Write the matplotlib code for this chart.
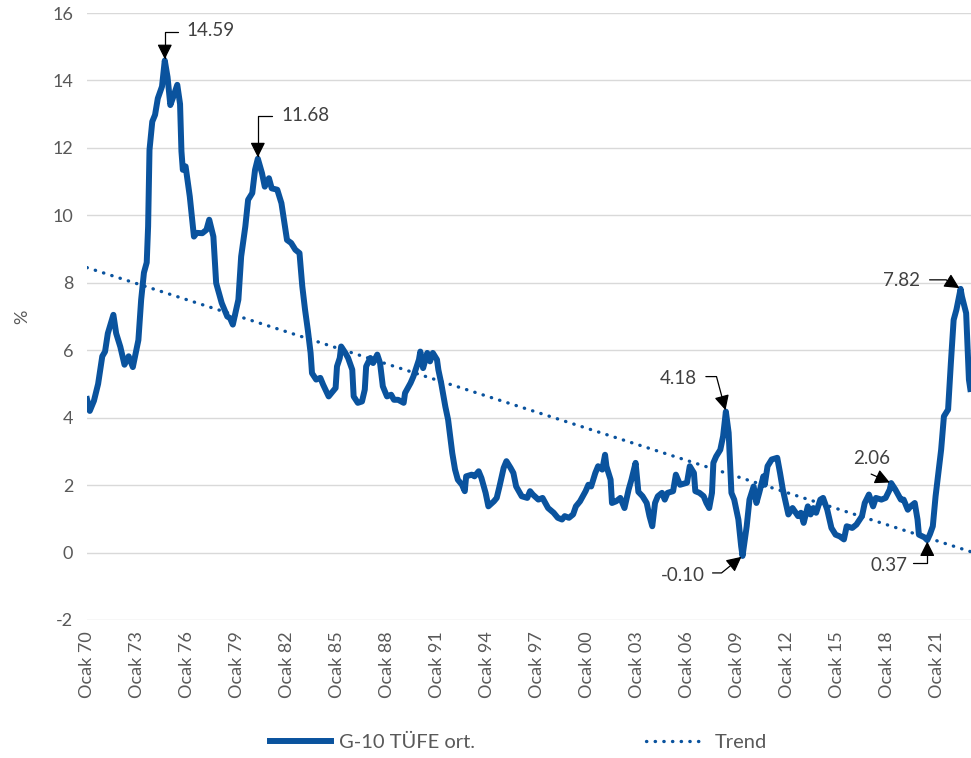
import numpy as np
import matplotlib
matplotlib.use("Agg")
import matplotlib.pyplot as plt

# G-10 average CPI (%); x = months since Jan 1970
MONTHS = [
    0, 2, 5, 8, 11, 13, 15, 19, 21, 24,
    27, 30, 33, 37, 39, 41, 43, 44, 45, 47,
    49, 51, 54, 56, 58, 60, 62, 65, 67, 68,
    69, 71, 74, 77, 79, 83, 86, 88, 91, 93,
    97, 101, 103, 105, 109, 111, 114, 116, 119, 121,
    123, 126, 128, 131, 133, 137, 140, 144, 147, 150,
    153, 155, 157, 159, 161, 162, 165, 168, 170, 174,
    176, 179, 180, 182, 183, 186, 188, 191, 192, 195,
    198, 200, 201, 204, 206, 209, 211, 213, 216, 219,
    221, 224, 228, 229, 233, 235, 239, 240, 242, 245,
    247, 249, 252, 253, 255, 258, 260, 263, 265, 267,
    270, 272, 273, 277, 279, 282, 284, 287, 289, 293,
    295, 297, 300, 302, 305, 307, 309, 313, 317, 319,
    321, 325, 328, 332, 336, 339, 342, 344, 347, 350,
    352, 355, 359, 361, 363, 366, 368, 371, 373, 374,
    377, 378, 381, 384, 387, 390, 392, 395, 397, 400,
    403, 405, 407, 409, 411, 414, 416, 418, 422, 424,
    427, 432, 434, 437, 438, 441, 444, 446, 448, 450,
    451, 453, 456, 458, 460, 462, 464, 466, 469, 471,
    472, 475, 477, 480, 482, 484, 487, 488, 490, 493,
    497, 499, 501, 505, 508, 512, 514, 516, 519, 521,
    523, 525, 528, 530, 533, 536, 539, 542, 545, 547,
    551, 554, 558, 560, 563, 566, 568, 572, 575, 578,
    579, 582, 586, 588, 591, 593, 596, 598, 599, 603,
    605, 607, 609, 611, 613, 615, 617, 620, 622, 624,
    626, 629, 630, 633, 635, 636,
]
CPI = [
    4.55, 4.2, 4.5, 5.0, 5.82, 5.96, 6.5, 7.05, 6.5, 6.1,
    5.57, 5.82, 5.5, 6.3, 7.5, 8.3, 8.6, 9.67, 11.94, 12.78,
    12.98, 13.47, 13.82, 14.59, 14.1, 13.27, 13.5, 13.87, 13.3, 11.9,
    11.35, 11.45, 10.56, 9.37, 9.48, 9.47, 9.57, 9.87, 9.37, 7.99,
    7.4, 7.0, 6.95, 6.76, 7.5, 8.78, 9.67, 10.46, 10.66, 11.35,
    11.68, 11.25, 10.85, 11.1, 10.8, 10.76, 10.36, 9.27, 9.18, 8.98,
    8.88, 7.9, 7.2, 6.6, 5.92, 5.32, 5.13, 5.18, 4.98, 4.63,
    4.73, 4.88, 5.52, 5.77, 6.11, 5.92, 5.77, 5.42, 4.63, 4.44,
    4.48, 4.83, 5.52, 5.77, 5.62, 5.87, 5.62, 4.93, 4.63, 4.68,
    4.53, 4.53, 4.44, 4.73, 5.03, 5.22, 5.72, 5.96, 5.47, 5.92,
    5.67, 5.92, 5.72, 5.42, 5.03, 4.33, 3.94, 2.95, 2.46, 2.16,
    2.01, 1.82, 2.26, 2.31, 2.26, 2.41, 2.21, 1.77, 1.37, 1.52,
    1.62, 1.96, 2.51, 2.71, 2.51, 2.36, 1.96, 1.67, 1.62, 1.82,
    1.72, 1.57, 1.62, 1.32, 1.18, 1.03, 0.98, 1.08, 1.03, 1.13,
    1.37, 1.52, 1.82, 2.01, 1.96, 2.36, 2.56, 2.46, 2.9, 2.56,
    2.16, 1.47, 1.52, 1.62, 1.32, 1.87, 2.16, 2.66, 1.8, 1.67,
    1.47, 1.08, 0.78, 1.47, 1.67, 1.77, 1.57, 1.77, 1.82, 2.31,
    2.01, 2.07, 2.56, 2.36, 1.82, 1.77, 1.67, 1.47, 1.32, 1.77,
    2.66, 2.85, 3.05, 3.45, 4.18, 3.55, 1.77, 1.57, 0.98, 0.19,
    -0.10, 0.78, 1.57, 1.96, 1.47, 1.77, 2.26, 2.01, 2.56, 2.76,
    2.81, 2.36, 1.87, 1.13, 1.32, 1.08, 1.18, 0.88, 1.37, 1.13,
    1.32, 1.18, 1.57, 1.62, 1.27, 0.73, 0.53, 0.48, 0.39, 0.78,
    0.73, 0.83, 1.08, 1.47, 1.72, 1.37, 1.62, 1.57, 1.62, 1.87,
    2.06, 1.87, 1.57, 1.57, 1.27, 1.37, 1.47, 0.98, 0.53, 0.45,
    0.37, 0.55, 0.78, 1.67, 2.36, 3.05, 4.04, 4.24, 5.62, 6.9,
    7.2, 7.82, 7.59, 7.1, 5.13, 4.85,
]

# linear trend, start and end value as shown on the chart
TREND_MONTHS = [0, 636]
TREND_VALUES = [8.45, 0.03]

TICK_MONTHS = list(range(0, 613, 36))
TICK_LABELS = ["Ocak 70", "Ocak 73", "Ocak 76", "Ocak 79", "Ocak 82", "Ocak 85",
               "Ocak 88", "Ocak 91", "Ocak 94", "Ocak 97", "Ocak 00", "Ocak 03",
               "Ocak 06", "Ocak 09", "Ocak 12", "Ocak 15", "Ocak 18", "Ocak 21"]

# callouts: month of the point, text offset, arrow start offset (pixels), connector
CALLOUT_MONTHS = [56, 123, 460, 472, 579, 605, 629]
CALLOUT_TEXT_OFFSETS = [(22, 30), (24, 43), (-29, 33), (-38, -20), (-20, 25), (-20, -25), (-41, 8)]
CALLOUT_ARROW_OFFSETS = [(13, 29), (14, 43), (-20, 35), (-30, -17), (-20, 9), (-14, -23), (-31, 9)]
CALLOUT_HA = ["left", "left", "right", "right", "center", "right", "right"]
CALLOUT_CONN = ["angle,angleA=0,angleB=90,rad=0", "angle,angleA=0,angleB=90,rad=0",
                "angle,angleA=0,angleB=105,rad=0", "angle,angleA=0,angleB=39,rad=0",
                "arc3", "angle,angleA=0,angleB=90,rad=0", "angle,angleA=0,angleB=-32,rad=0"]

BLUE = "#0a539e"
GREY_TXT = "#595959"

plt.rcParams["font.family"] = ["Lato", "DejaVu Sans"]
plt.rcParams["axes.unicode_minus"] = False

fig = plt.figure(figsize=(9.71, 7.58), dpi=100)
ax = fig.add_axes([87 / 971, 1 - 620 / 758, 884 / 971, 607 / 758])

line, = ax.plot(MONTHS, CPI, color=BLUE, linewidth=4.3, solid_joinstyle="round",
                label="G-10 TÜFE ort.")
trend, = ax.plot(TREND_MONTHS, TREND_VALUES, color=BLUE, linewidth=2.4,
                 linestyle=(0, (0.1, 2.5)), dash_capstyle="round", label="Trend")

for m, toff, aoff, ha, conn in zip(CALLOUT_MONTHS, CALLOUT_TEXT_OFFSETS,
                                  CALLOUT_ARROW_OFFSETS, CALLOUT_HA, CALLOUT_CONN):
    v = CPI[MONTHS.index(m)]
    ax.annotate("", xy=(m, v), xytext=aoff, textcoords="offset pixels",
                arrowprops=dict(arrowstyle="-|>,head_length=0.9,head_width=0.45",
                                color="black", lw=0.9, shrinkA=0, shrinkB=1,
                                connectionstyle=conn))
    ax.annotate(f"{v:.2f}", xy=(m, v), xytext=toff, textcoords="offset pixels",
                ha=ha, va="center", fontsize=13.5, color="#404040")

ax.set_xlim(0, 636.5)
ax.set_ylim(-2, 16)
ax.set_yticks(np.arange(-2, 17, 2))
ax.set_xticks(TICK_MONTHS)
ax.set_xticklabels(TICK_LABELS, rotation=90)
ax.tick_params(axis="both", length=0, labelsize=13, labelcolor=GREY_TXT)
ax.tick_params(axis="x", pad=8)
ax.tick_params(axis="y", pad=10)
ax.grid(axis="y", color="#d9d9d9", linewidth=1.0)
ax.set_axisbelow(True)
for s in ax.spines.values():
    s.set_visible(False)
ax.set_ylabel("%", fontsize=13, color=GREY_TXT, labelpad=16)

fig.legend(handles=[line, trend], loc="center", bbox_to_anchor=(0.534, 0.02),
           ncol=2, frameon=False, fontsize=14.5, handlelength=3.0,
           handletextpad=0.4, columnspacing=8.5, labelcolor=GREY_TXT)

fig.savefig("out.png", dpi=100)
